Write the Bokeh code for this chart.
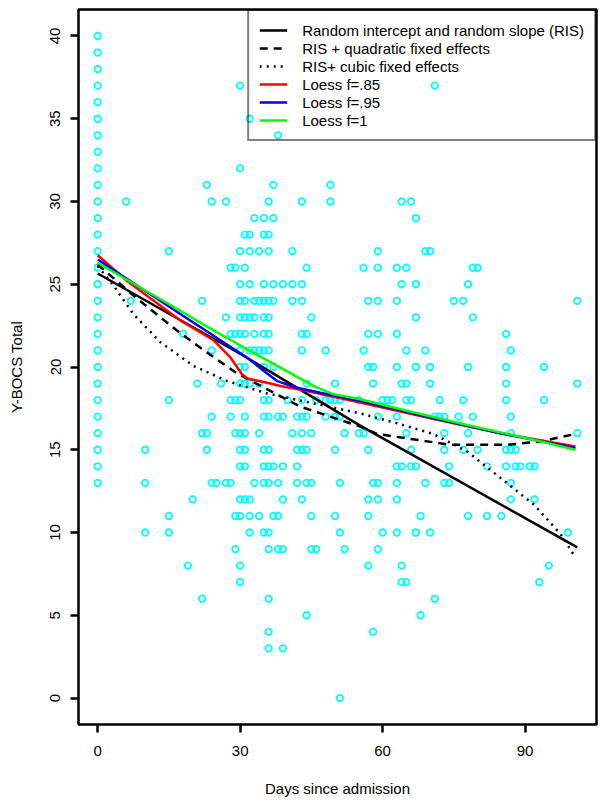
from bokeh.plotting import figure
from bokeh.models import Range1d, FixedTicker, Legend, LegendItem
from bokeh.embed import file_html
from bokeh.resources import INLINE

# ---------------- data ----------------
# Y-BOCS total scores and the admission days at which each score was observed
Y_LEVELS = [40, 39, 38, 37, 36, 35, 34, 33, 32, 31, 30, 29, 28, 27, 26, 25, 24, 23, 22, 21,
            20, 19, 18, 17, 16, 15, 14, 13, 12, 11, 10, 9, 8, 7, 6, 5, 4, 3, 0]
DAYS_AT_LEVEL = [
    [0],                                    # 40
    [0],                                    # 39
    [0],                                    # 38
    [0, 30, 71],                            # 37
    [0],                                    # 36
    [0, 32],                                # 35
    [0, 38],                                # 34
    [0],                                    # 33
    [0, 30],                                # 32
    [0, 23, 37, 49],                        # 31
    [0, 6, 24, 27, 36, 43, 49, 64, 66],     # 30
    [0, 33, 35, 37, 67],                    # 29
    [0, 31, 32, 35, 36],                    # 28
    [0, 15, 30, 32, 34, 36, 41, 59, 69, 70],  # 27
    [0, 28, 29, 31, 44, 56, 59, 63, 65, 79, 80],  # 26
    [0, 30, 32, 35, 37, 39, 41, 43, 64, 67, 78],  # 25
    [0, 7, 22, 30, 31, 33, 34, 35, 36, 37, 41, 43, 57, 59, 63, 75, 77, 101],  # 24
    [0, 27, 30, 31, 32, 33, 35, 36, 45, 67, 79],  # 23
    [0, 18, 28, 29, 30, 31, 33, 35, 36, 43, 44, 57, 59, 63, 86],  # 22
    [0, 24, 30, 32, 33, 34, 35, 36, 43, 48, 56, 65, 69, 87],  # 21
    [0, 30, 31, 35, 37, 57, 58, 63, 67, 70, 78, 86, 94],  # 20
    [0, 21, 26, 30, 31, 32, 34, 44, 50, 58, 64, 65, 70, 86, 101],  # 19
    [0, 15, 28, 29, 30, 35, 36, 40, 43, 46, 48, 49, 50, 51, 55, 60, 61, 62, 65, 66, 72, 77, 86, 94],  # 18
    [0, 24, 28, 31, 35, 36, 38, 39, 42, 43, 44, 48, 50, 51, 59, 63, 71, 72, 73, 76, 79, 87],  # 17
    [0, 22, 23, 29, 30, 31, 34, 41, 43, 45, 52, 55, 56, 65, 73, 78, 87, 101],  # 16
    [0, 10, 23, 30, 31, 35, 36, 42, 43, 44, 50, 57, 66, 73, 77, 80, 86, 87, 88],  # 15
    [0, 30, 31, 35, 36, 37, 39, 42, 63, 64, 66, 67, 74, 82, 86, 88, 89, 91, 92],  # 14
    [0, 10, 24, 25, 27, 28, 33, 35, 36, 38, 42, 44, 45, 51, 58, 59, 63, 69, 73, 74, 87],  # 13
    [20, 30, 31, 32, 39, 43, 57, 59, 63, 87, 92],  # 12
    [15, 29, 30, 32, 34, 37, 38, 45, 50, 57, 68, 78, 82, 85],  # 11
    [10, 15, 32, 35, 36, 51, 60, 63, 67, 70, 99],  # 10
    [29, 36, 38, 39, 45, 46, 52, 59],        # 9
    [19, 30, 57, 64, 95],                    # 8
    [30, 64, 65, 93],                        # 7
    [22, 36, 71],                            # 6
    [44, 68],                                # 5
    [36, 58],                                # 4
    [36, 39],                                # 3
    [51],                                    # 0
]

# fitted curves
ris_days = [0, 30, 55, 101]
ris_vals = [25.65, 20.8, 16.5, 9.1]

quad_days = [0, 7.6, 16.7, 23.1, 29.4, 42.7, 55.3, 58.9, 74.3, 86.2, 93.2, 100.6]
quad_vals = [26.2, 24.3, 22.2, 20.86, 19.6, 17.6, 16.4, 15.95, 15.3, 15.3, 15.5, 15.95]

cubic_days = [0, 3.4, 7.5, 13.2, 20.2, 27.3, 35.7, 45.5, 55.3, 63.0, 70.7, 77.8, 84.8, 91.8, 97.5, 100.6]
cubic_vals = [26.1, 24.9, 23.2, 21.5, 20.06, 19.15, 18.4, 17.8, 17.2, 16.6, 15.95, 14.9, 13.3, 11.7, 9.9, 8.5]

loess85_days = [0, 6.2, 17.5, 24.5, 28, 30.4, 31.5, 35.7, 38.5, 44.1, 55.3, 70.8, 84.8, 100.6]
loess85_vals = [26.75, 25.2, 22.8, 21.6, 20.56, 19.56, 19.3, 19.05, 18.85, 18.55, 17.85, 16.85, 16.0, 15.2]

loess95_days = [0, 17.4, 24.5, 31.5, 35, 37.8, 42, 46.9, 55.3, 70.8, 84.8, 100.6]
loess95_vals = [26.5, 23.2, 21.87, 20.56, 19.76, 19.15, 18.75, 18.45, 17.95, 16.9, 16.0, 15.1]

loess1_days = [0, 17.4, 24.5, 31.5, 38.5, 45.5, 49.7, 55.3, 63.8, 77.8, 91.8, 100.6]
loess1_vals = [26.3, 23.4, 22.2, 21.07, 19.96, 18.85, 18.35, 18.05, 17.45, 16.5, 15.6, 15.0]

x_ticks = [0, 30, 60, 90]
y_ticks = [0, 5, 10, 15, 20, 25, 30, 35, 40]

legend_labels = ["Random intercept and random slope (RIS)",
                 "RIS + quadratic fixed effects",
                 "RIS+ cubic fixed effects",
                 "Loess f=.85",
                 "Loess f=.95",
                 "Loess f=1"]

# ---------------- figure ----------------
FONT = "Liberation Sans"

p = figure(width=598, height=800,
           x_range=Range1d(-4.04, 105.04), y_range=Range1d(-1.6, 41.6),
           output_backend="svg", toolbar_location=None,
           min_border_left=78, min_border_top=9, min_border_right=2, min_border_bottom=76)

p.grid.visible = False
p.outline_line_color = "black"
p.outline_line_width = 2.5
p.background_fill_color = "white"
p.border_fill_color = "white"

for ax in (p.xaxis[0], p.yaxis[0]):
    ax.axis_line_color = None
    ax.major_tick_line_color = "black"
    ax.major_tick_line_width = 2.5
    ax.major_tick_out = 8
    ax.major_tick_in = 0
    ax.minor_tick_line_color = None
    ax.major_label_text_font = FONT
    ax.major_label_text_font_size = "15px"
    ax.major_label_text_color = "black"
    ax.axis_label_text_font = FONT
    ax.axis_label_text_font_size = "15px"
    ax.axis_label_text_font_style = "normal"
    ax.axis_label_text_color = "black"

p.xaxis.ticker = FixedTicker(ticks=x_ticks)
p.yaxis.ticker = FixedTicker(ticks=y_ticks)
p.xaxis.axis_label = "Days since admission"
p.yaxis.axis_label = "Y-BOCS Total"
p.yaxis.major_label_orientation = "vertical"
p.xaxis.major_label_standoff = 13
p.yaxis.major_label_standoff = 10
p.xaxis.axis_label_standoff = 21
p.yaxis.axis_label_standoff = 23

# scatter points
xs, ys = [], []
for lvl, dlist in zip(Y_LEVELS, DAYS_AT_LEVEL):
    for d in dlist:
        xs.append(d)
        ys.append(lvl)
p.scatter(xs, ys, marker="circle", size=6.5, fill_color=None,
          line_color="#00FFFF", line_width=1.8)

# curves
r1 = p.line(ris_days, ris_vals, line_color="black", line_width=2.5)
r2 = p.line(quad_days, quad_vals, line_color="black", line_width=2.5, line_dash="8 6")
r3 = p.line(cubic_days, cubic_vals, line_color="black", line_width=2.5, line_dash="2 5")
r4 = p.line(loess85_days, loess85_vals, line_color="#FF0000", line_width=2.5)
r5 = p.line(loess95_days, loess95_vals, line_color="#0000FF", line_width=2.5)
r6 = p.line(loess1_days, loess1_vals, line_color="#00FF00", line_width=2.5)

legend = Legend(items=[LegendItem(label=l, renderers=[r]) for l, r in
                       zip(legend_labels, [r1, r2, r3, r4, r5, r6])],
                location="top_right", margin=0, padding=10, spacing=0,
                glyph_width=28, glyph_height=18, label_height=18, label_standoff=15,
                label_text_font=FONT, label_text_font_size="15px",
                label_text_color="black",
                border_line_color="black", border_line_width=2.5,
                background_fill_alpha=0)
p.add_layout(legend)

open("out.html", "w").write(file_html(p, INLINE))
